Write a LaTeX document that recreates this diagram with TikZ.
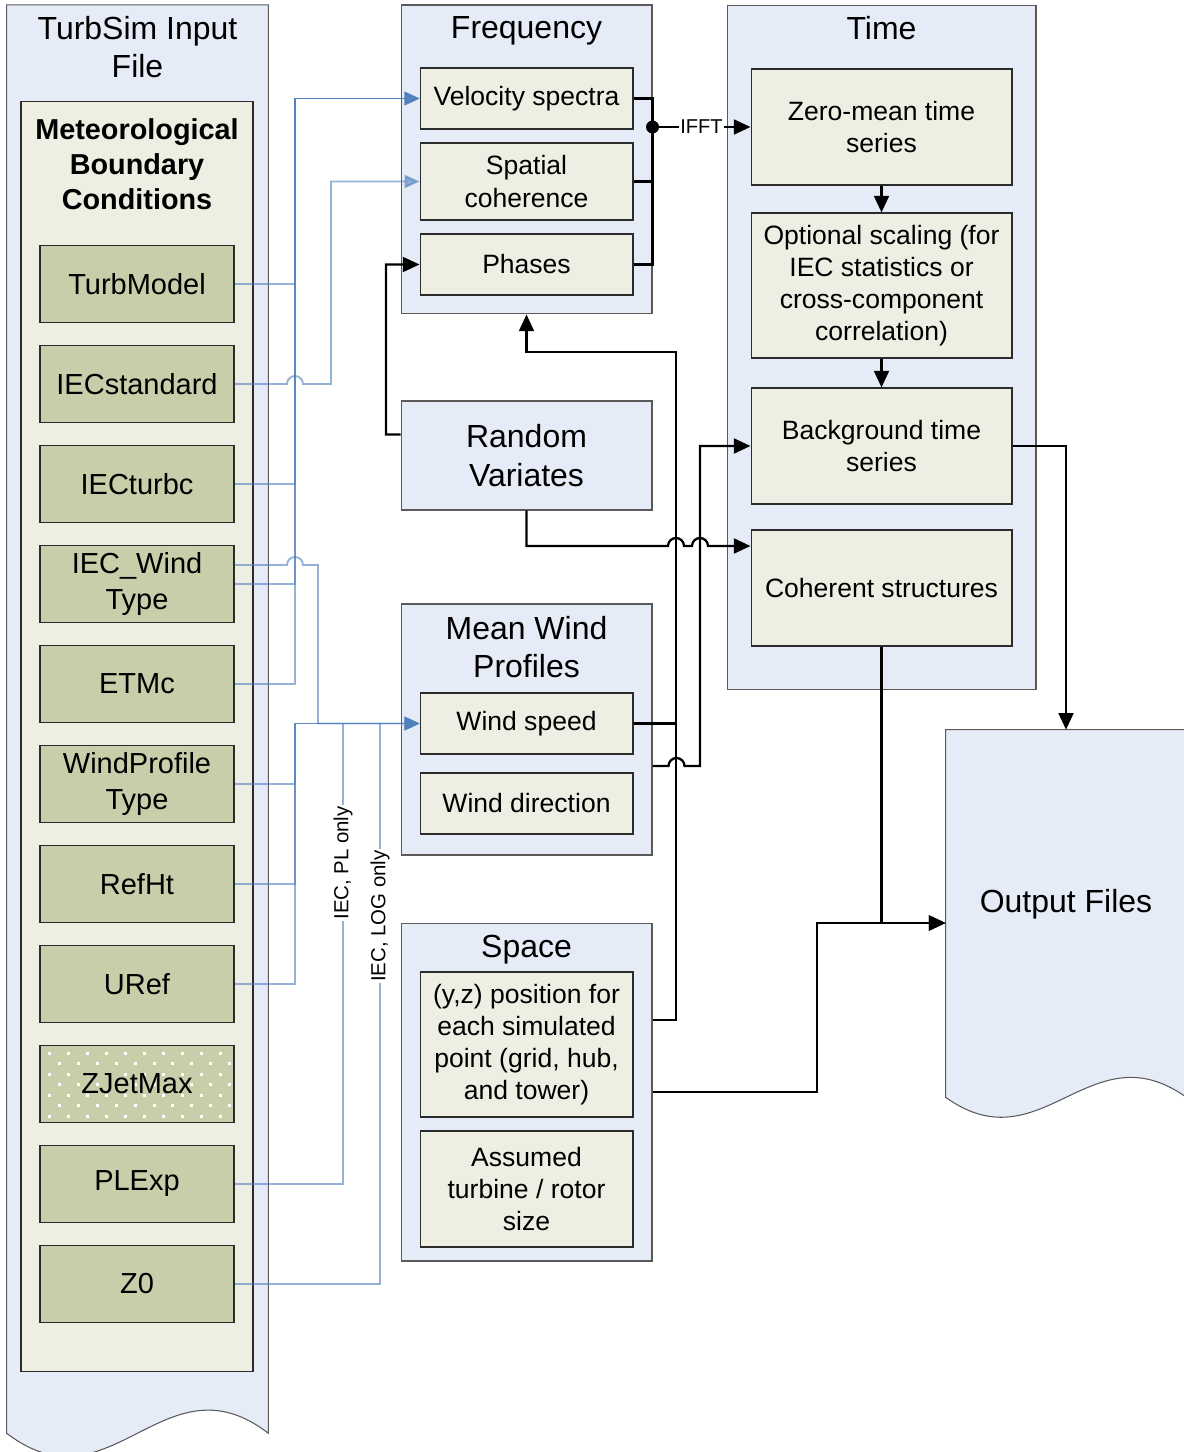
\documentclass[tikz,border=0pt]{standalone}
\usepackage{fontspec}
\setmainfont{Liberation Sans}
\usetikzlibrary{arrows.meta}
\definecolor{grpfill}{HTML}{E6ECF7}
\definecolor{grpline}{HTML}{5A5A5A}
\definecolor{boxfill}{HTML}{EEEFE3}
\definecolor{boxline}{HTML}{2B2B2B}
\definecolor{parfill}{HTML}{C7CEA9}
\definecolor{wireblue}{HTML}{4F81BD}

\begin{document}
\begin{tikzpicture}[x=0.02cm, y=-0.02cm,
    grp/.style={draw=grpline, fill=grpfill, line width=0.6pt, inner sep=0pt},
    box/.style={draw=boxline, fill=boxfill, line width=0.6pt, align=center, inner sep=2pt,
        font=\fontsize{15.1}{18.3}\selectfont},
    param/.style={draw=boxline, fill=parfill, line width=0.6pt, align=center, inner sep=2pt,
        minimum width=3.88cm, minimum height=1.54cm, font=\fontsize{16.5}{20}\selectfont},
    ttl/.style={align=center, font=\fontsize{18.2}{22}\selectfont},
    wire/.style={line width=1.3pt},
    arr/.style={wire, -{Triangle[length=9.5pt,width=8.5pt]}},
    bwire/.style={draw=wireblue, opacity=0.6, line width=1.1pt},
    barr/.style={bwire, -{Triangle[length=8.5pt,width=7.5pt]}},
    side/.style={fill=white, inner sep=1pt, rotate=90, font=\fontsize{11.6}{13}\selectfont}
]
    \useasboundingbox (0,0) rectangle (1183,1452);

    % Input file
    \node[minimum width=5.22cm, minimum height=28.56cm, inner sep=0pt] (inp) at (137.5,719) {};
    \draw[grp] (inp.south west) -- (inp.north west) -- (inp.north east) -- (inp.south east)
        .. controls +(-104,-80) and +(104,80) .. (inp.south west) -- cycle;
    \node[ttl] (inpt) at (137.5,47) {TurbSim Input\\File};
    \node[draw=boxline, fill=boxfill, line width=0.6pt, minimum width=4.64cm, minimum height=25.42cm] (met) at (137,736.5) {};
    \node[font=\fontsize{16.4}{19.9}\selectfont\bfseries, align=center] (mett) at (137,164) {Meteorological\\Boundary\\Conditions};

    \node[param] (turb) at (137,284) {TurbModel};
    \node[param] (iecstd) at (137,384) {IECstandard};
    \node[param] (iecturbc) at (137,484) {IECturbc};
    \node[param] (iecwind) at (137,584) {IEC\_Wind\\Type};
    \node[param] (etmc) at (137,684) {ETMc};
    \node[param] (wprof) at (137,784) {WindProfile\\Type};
    \node[param] (refht) at (137,884) {RefHt};
    \node[param] (uref) at (137,984) {URef};
    \node[param, path picture={
        \foreach \r in {0,...,6}{\foreach \c in {0,...,9}{
            \fill[white] ([xshift={0.16cm+\c*0.38cm+mod(\r,2)*0.19cm}, yshift={-0.12cm-\r*0.21cm}]path picture bounding box.north west)
                rectangle ++(0.06cm,-0.06cm);}}}] (zjet) at (137,1084) {ZJetMax};
    \node[param] (plexp) at (137,1184) {PLExp};
    \node[param] (zzero) at (137,1284) {Z0};

    % Frequency
    \node[grp, minimum width=5.02cm, minimum height=6.18cm] (freq) at (526.5,159.5) {};
    \node[ttl] (freqt) at (526.5,31) {Frequency};
    \node[box, minimum width=4.26cm, minimum height=1.22cm] (velspec) at (526.5,98.5) {Velocity spectra};
    \node[box, minimum width=4.26cm, minimum height=1.54cm] (spcoh) at (526.5,181.5) {Spatial\\coherence};
    \node[box, minimum width=4.26cm, minimum height=1.22cm] (phases) at (526.5,264.5) {Phases};

    % Time
    \node[grp, minimum width=6.18cm, minimum height=13.7cm] (time) at (881.5,347.5) {};
    \node[ttl] (timet) at (881.5,28) {Time};
    \node[box, minimum width=5.22cm, minimum height=2.32cm] (zmean) at (881.5,127) {Zero-mean time\\series};
    \node[box, minimum width=5.22cm, minimum height=2.9cm] (optsc) at (881.5,285.5) {Optional scaling (for\\IEC statistics or\\cross-component\\correlation)};
    \node[box, minimum width=5.22cm, minimum height=2.32cm] (bgts) at (881.5,446) {Background time\\series};
    \node[box, minimum width=5.22cm, minimum height=2.32cm] (cohst) at (881.5,588) {Coherent structures};

    % Random variates
    \node[grp, ttl, minimum width=5.02cm, minimum height=2.18cm] (rand) at (526.5,455.5) {Random\\Variates};

    % Mean wind profiles
    \node[grp, minimum width=5.02cm, minimum height=5.02cm] (mwp) at (526.5,729.5) {};
    \node[ttl] (mwpt) at (526.5,647) {Mean Wind\\Profiles};
    \node[box, minimum width=4.26cm, minimum height=1.22cm] (wspd) at (526.5,723.5) {Wind speed};
    \node[box, minimum width=4.26cm, minimum height=1.22cm] (wdir) at (526.5,803.5) {Wind direction};

    % Space
    \node[grp, minimum width=5.02cm, minimum height=6.76cm] (space) at (526.5,1092) {};
    \node[ttl] (spacet) at (526.5,950) {Space};
    \node[box, minimum width=4.26cm, minimum height=2.9cm] (yzpos) at (526.5,1044.5) {(y,z) position for\\each simulated\\point (grid, hub,\\and tower)};
    \node[box, minimum width=4.26cm, minimum height=2.32cm] (rotor) at (526.5,1189) {Assumed\\turbine / rotor\\size};

    % Output files
    \node[minimum width=4.8cm, minimum height=7.72cm, inner sep=0pt] (out) at (1066,923) {};
    \draw[grp] (out.north west) -- (out.north east) -- ([yshift=0.38cm]out.south east)
        .. controls +(-96,-69) and +(96,69) .. ([yshift=0.38cm]out.south west) -- cycle;
    \node[ttl] (outt) at (1066,904) {Output Files};

    % Bends
    \coordinate (vbus) at (295,98.5);
    \coordinate (wbus) at (295,723.5);
    \coordinate (plbus) at (343,723.5);
    \coordinate (logbus) at (380,723.5);
    \coordinate (fbend) at (676,352);
    \coordinate (obend) at (817,923);

    % Input wires
    \draw[barr] (turb.east) -| (vbus) -- (velspec.west);
    \draw[barr] (iecturbc.east) -| (vbus) -- (velspec.west);
    \draw[barr] (iecwind.east) -| (vbus) -- (velspec.west);
    \draw[barr] (etmc.east) -| (vbus) -- (velspec.west);
    \draw[barr] (iecstd.east) -- (287,384) arc[start angle=180, end angle=0, radius=0.16cm] -- (331,384) |- (spcoh.west);
    \draw[barr] ([yshift=0.38cm]iecwind.east) -- (287,565) arc[start angle=180, end angle=0, radius=0.16cm] -- (318,565) |- (wspd.west);
    \draw[barr] (wprof.east) -| (wbus) -- (wspd.west);
    \draw[barr] (refht.east) -| (wbus) -- (wspd.west);
    \draw[barr] (uref.east) -| (wbus) -- (wspd.west);
    \draw[barr] (plexp.east) -| (plbus) -- (wspd.west);
    \draw[barr] (zzero.east) -| (logbus) -- (wspd.west);
    \node[side] (plonly) at (343,863) {IEC, PL only};
    \node[side] (logonly) at (380,916) {IEC, LOG only};

    % Process wires
    \draw[wire] (velspec.east) -- (velspec.east -| freq.east) -- (phases.east -| freq.east) -- (phases.east);
    \draw[wire] (spcoh.east) -- (spcoh.east -| freq.east);
    \coordinate (dot) at (freq.east |- zmean.west);
    \fill (dot) circle[radius=0.13cm];
    \draw[arr] (dot) -- node[fill=white, inner sep=1pt, font=\fontsize{11.4}{13}\selectfont] (ifft) {IFFT} (zmean.west);
    \draw[arr] (zmean.south) -- (optsc.north);
    \draw[arr] (optsc.south) -- (bgts.north);
    \draw[arr] (bgts.east) -| (out.north);
    \draw[arr] (cohst.south) |- (out.west);
    \draw[arr] (space.east) -| (obend) -- (out.west);
    \draw[arr] ([yshift=1.44cm]space.east) -| (fbend) -| (freq.south);
    \draw[wire] (wspd.east) -- (wspd.east -| fbend);
    \draw[arr] ([yshift=-0.73cm]mwp.east) -- ++(16,0) arc[start angle=180, end angle=0, radius=0.16cm] -- (700,766) |- (bgts.west);
    \draw[arr] (rand.south) |- (668,546) arc[start angle=180, end angle=0, radius=0.16cm] -- (692,546)
        arc[start angle=180, end angle=0, radius=0.16cm] -- ([yshift=0.84cm]cohst.west);
    \draw[arr] ([yshift=0.42cm]rand.west) -- (386,434.5) |- (phases.west);
\end{tikzpicture}
\end{document}
